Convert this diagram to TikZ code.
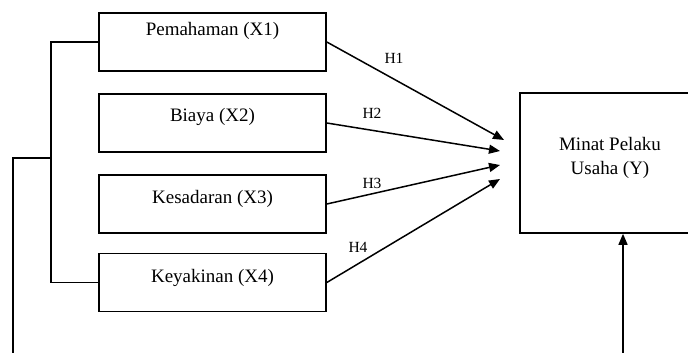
\documentclass[tikz,border=0pt]{standalone}
\usepackage{fontspec}
\setmainfont{Liberation Serif}
\usetikzlibrary{arrows.meta}
\begin{document}
\begin{tikzpicture}[x=0.5pt,y=-0.5pt,
 box/.style={draw,line width=0.8pt,minimum width=113.5pt,minimum height=29pt,inner sep=0pt},
 lbl/.style={font=\fontsize{9.5}{12}\selectfont,inner sep=0pt},
 hyp/.style={font=\fontsize{7.75}{9}\selectfont,inner sep=0pt},
 conn/.style={line width=0.75pt},
 arr/.style={line width=0.75pt,-{Triangle[length=5.5pt,width=4.5pt]}}]
\useasboundingbox (0,0) rectangle (688,352);
\clip (0,0) rectangle (688,352);
\node[box] (x1) at (212.5,42) {};
\node[box] (x2) at (212.5,123) {};
\node[box] (x3) at (212.5,204) {};
\node[box] (x4) at (212.5,282.5) {};
\node[lbl] (t1) at (212.5,31) {Pemahaman (X1)};
\node[lbl] (t2) at (212.5,117) {Biaya (X2)};
\node[lbl] (t3) at (212.5,199) {Kesadaran (X3)};
\node[lbl] (t4) at (212.5,278) {Keyakinan (X4)};
\node[draw,line width=0.8pt,minimum width=103pt,minimum height=70pt,inner sep=0pt] (y) at (623,163) {};
\node[lbl,align=center] (ty) at (610,157.5) {Minat Pelaku\\Usaha (Y)};
\coordinate (p1) at (504,140);
\coordinate (p2) at (500,151);
\coordinate (p3) at (500,165);
\coordinate (p4) at (500,179);
\draw[arr] (x1.east) -- (p1);
\draw[arr] (x2.east) -- (p2);
\draw[arr] (x3.east) -- (p3);
\draw[arr] (x4.east) -- (p4);
\node[hyp] (h1) at (394,58) {H1};
\node[hyp] (h2) at (372,113) {H2};
\node[hyp] (h3) at (372,183) {H3};
\node[hyp] (h4) at (358,247) {H4};
\draw[conn] (x1.west) -| (51,282.5) -- (x4.west);
\coordinate (bm) at (51,158);
\draw[arr] (bm) -- (13,158) -- (13,380) -| (y.south);
\end{tikzpicture}
\end{document}
